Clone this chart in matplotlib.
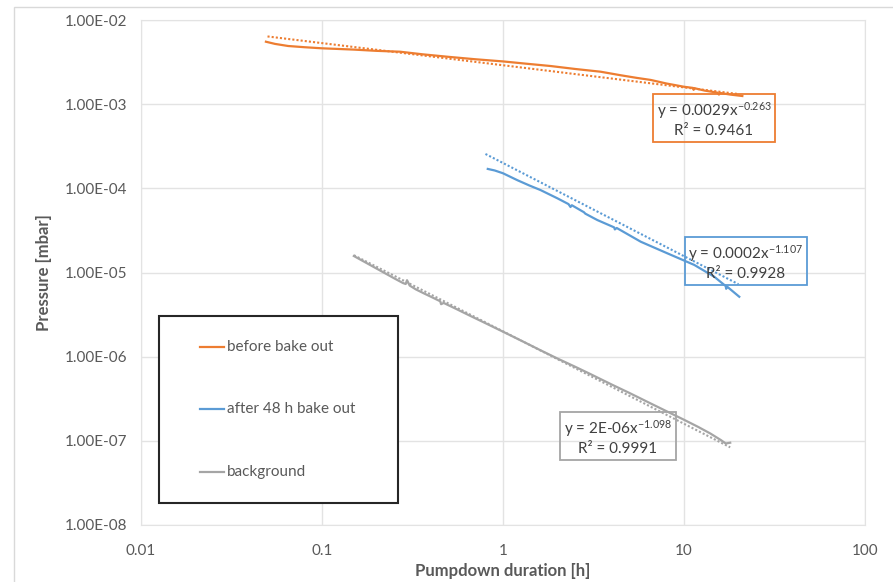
import matplotlib
matplotlib.use("Agg")
import matplotlib.pyplot as plt
from matplotlib.lines import Line2D
from matplotlib.patches import Rectangle
import numpy as np

plt.rcParams['font.family'] = ['Lato', 'DejaVu Sans']
plt.rcParams['mathtext.default'] = 'regular'

# ── DATA ─────────────────────────────────────────────────────
before_t = [0.049, 0.055, 0.065, 0.08, 0.1, 0.15, 0.2, 0.27, 0.36, 0.5, 0.7,
            1.0, 1.4, 1.83, 2.5, 3.46, 4.5, 5.5, 6.55, 8.0, 10.0, 11.2, 11.3,
            11.4, 13.0, 15.3, 15.6, 15.8, 18.0, 21.0]
before_p = [5.52e-3, 5.2e-3, 4.91e-3, 4.75e-3, 4.61e-3, 4.45e-3, 4.3e-3,
            4.2e-3, 3.91e-3, 3.65e-3, 3.42e-3, 3.22e-3, 3.0e-3, 2.84e-3,
            2.62e-3, 2.43e-3, 2.2e-3, 2.05e-3, 1.94e-3, 1.76e-3, 1.61e-3,
            1.56e-3, 1.48e-3, 1.55e-3, 1.45e-3, 1.37e-3, 1.30e-3, 1.36e-3,
            1.3e-3, 1.25e-3]

after_t = [0.824, 0.9, 1.0, 1.2, 1.4, 1.61, 2.0, 2.3, 2.36, 2.4, 2.8, 2.85,
           3.32, 4.11, 4.15, 4.25, 5.77, 8.09, 11.4, 14.7, 17.0, 17.1, 17.3,
           20.2]
after_p = [1.70e-4, 1.63e-4, 1.51e-4, 1.25e-4, 1.08e-4, 9.55e-5, 7.6e-5,
           6.5e-5, 6.0e-5, 6.3e-5, 5.2e-5, 5.0e-5, 4.2e-5, 3.44e-5, 3.25e-5,
           3.38e-5, 2.32e-5, 1.69e-5, 1.23e-5, 8.9e-6, 6.9e-6, 6.4e-6,
           6.8e-6, 5.15e-6]

bg_t = [0.15, 0.2, 0.25, 0.28, 0.29, 0.295, 0.305, 0.33, 0.365, 0.4, 0.45,
        0.455, 0.47, 0.55, 0.65, 0.8, 1.0, 1.3, 1.6, 2.0, 2.5, 3.0, 4.0, 5.0,
        6.5, 8.0, 10.0, 12.0, 14.0, 16.0, 17.0, 18.0]
bg_p = [1.57e-5, 1.115e-5, 8.55e-6, 7.5e-6, 7.3e-6, 8.1e-6, 7.0e-6, 6.3e-6,
        5.66e-6, 5.15e-6, 4.55e-6, 4.2e-6, 4.35e-6, 3.7e-6, 3.1e-6, 2.5e-6,
        1.98e-6, 1.5e-6, 1.2e-6, 9.5e-7, 7.6e-7, 6.3e-7, 4.65e-7, 3.7e-7,
        2.8e-7, 2.25e-7, 1.78e-7, 1.46e-7, 1.22e-7, 1.02e-7, 9.3e-8, 9.5e-8]

# power-law trendlines  y = a * x^b
fit_a = [0.0029, 0.0002, 2e-06]
fit_b = [-0.263, -1.107, -1.098]
fit_r2 = [0.9461, 0.9928, 0.9991]
fit_a_txt = ['0.0029', '0.0002', '2E-06']
fit_range = [(0.05, 20.0), (0.8, 20.0), (0.15, 18.0)]

labels = ['before bake out', 'after 48 h bake out', 'background']
colors = ['#ED7D31', '#5B9BD5', '#A5A5A5']

# ── FIGURE ───────────────────────────────────────────────────
W, H = 893, 582
fig = plt.figure(figsize=(W / 100, H / 100), dpi=100)
x0, x1, y0, y1 = 141, 865, 20, 525
ax = fig.add_axes([x0 / W, 1 - y1 / H, (x1 - x0) / W, (y1 - y0) / H])

# outer chart frame
fig.patches.append(Rectangle((14 / W, -0.05), 1.1, 1 - 7 / H + 0.05,
                             transform=fig.transFigure, fill=False,
                             edgecolor='#D9D9D9', linewidth=1.0))


def pix(px, py):
    """pixel position -> axes fraction"""
    return (px - x0) / (x1 - x0), (y1 - py) / (y1 - y0)


series = [(before_t, before_p), (after_t, after_p), (bg_t, bg_p)]
for (t, p), c, a, b, (lo, hi) in zip(series, colors, fit_a, fit_b, fit_range):
    ax.plot(t, p, color=c, linewidth=1.6, zorder=3)
    xt = np.logspace(np.log10(lo), np.log10(hi), 100)
    ax.plot(xt, a * xt ** b, color=c, linewidth=1.5,
            linestyle=(0, (1, 1)), zorder=2)

ax.set_xscale('log')
ax.set_yscale('log')
ax.set_xlim(0.01, 100)
ax.set_ylim(1e-8, 1e-2)
ax.set_xticks([0.01, 0.1, 1, 10, 100])
ax.set_yticks([1e-8, 1e-7, 1e-6, 1e-5, 1e-4, 1e-3, 1e-2])
ax.xaxis.set_major_formatter(plt.FuncFormatter(lambda v, p: f'{v:g}'))
ax.yaxis.set_major_formatter(plt.FuncFormatter(lambda v, p: f'{v:.2E}'))
ax.minorticks_off()
ax.tick_params(length=0, labelsize=11, labelcolor='#595959')
ax.tick_params(axis='y', pad=10)
ax.tick_params(axis='x', pad=14)
ax.grid(True, color='#E3E3E3', linewidth=1.0)
ax.set_axisbelow(True)
for s in ax.spines.values():
    s.set_color('#E3E3E3')

ax.set_xlabel('Pumpdown duration [h]', fontsize=12, fontweight='bold',
              color='#595959', labelpad=3)
ax.set_ylabel('Pressure [mbar]', fontsize=12, fontweight='bold',
              color='#595959', labelpad=9)

# trendline equation boxes
box_pos = [(714, 119), (746, 262), (618, 437)]
for (px, py), c, at, b, r2 in zip(box_pos, colors, fit_a_txt, fit_b, fit_r2):
    bx, by = pix(px, py)
    ax.text(bx, by, f'y = {at}x$^{{{b:g}}}$\nR² = {r2:.4f}',
            transform=ax.transAxes, ha='center', va='center',
            multialignment='center', fontsize=11, color='#404040',
            linespacing=1.3, zorder=5,
            bbox=dict(boxstyle='square,pad=0.25', facecolor='none',
                      edgecolor=c, linewidth=1.3))

# legend box
lx0, ly0 = pix(159, 503)
lx1, ly1 = pix(398, 316)
ax.add_patch(Rectangle((lx0, ly0), lx1 - lx0, ly1 - ly0,
                       transform=ax.transAxes, facecolor='white',
                       edgecolor='#262626', linewidth=1.5, zorder=6))
for lab, c, py in zip(labels, colors, [347, 409, 472]):
    ha, vy = pix(200, py)
    hb, _ = pix(224, py)
    ax.add_line(Line2D([ha, hb], [vy, vy], transform=ax.transAxes,
                       color=c, linewidth=1.6, zorder=7))
    tx, _ = pix(227, py)
    ax.text(tx, vy, lab, transform=ax.transAxes, ha='left', va='center',
            fontsize=11, color='#595959', zorder=7)

fig.savefig('out.png', dpi=100, facecolor='white')
